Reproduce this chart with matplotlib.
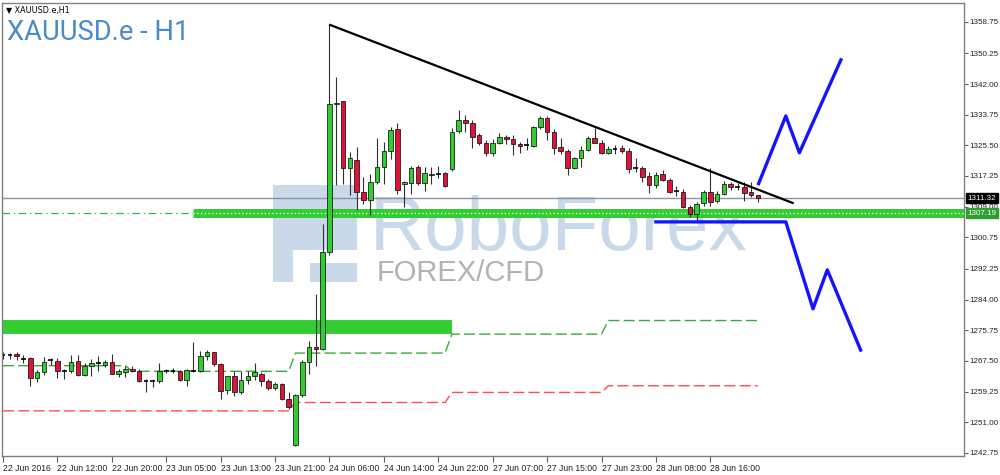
import numpy as np
import matplotlib.pyplot as plt
from matplotlib.patches import Rectangle

# ------------------ XAUUSD.e H1 candles ------------------

opens = [1268.9, 1269.0, 1269.3, 1268.1, 1268.3, 1262.9, 1264.4, 1267.5, 1267.4, 1264.7,
         1264.9, 1267.4, 1263.8, 1266.2, 1266.9, 1266.5, 1267.3, 1264.0, 1264.4, 1265.4,
         1264.9, 1262.2, 1262.2, 1262.2, 1264.9, 1264.9, 1264.9, 1262.4, 1264.9, 1264.9,
         1268.9, 1269.8, 1266.7, 1259.7, 1263.3, 1259.0, 1262.4, 1263.5, 1264.1, 1262.2,
         1260.2, 1261.3, 1257.3, 1244.8, 1258.3, 1267.1, 1271.2, 1270.7, 1296.8, 1336.5,
         1337.3, 1319.5, 1321.5, 1313.0, 1310.7, 1315.7, 1319.7, 1324.0, 1329.8, 1315.0,
         1315.4, 1319.7, 1315.4, 1317.6, 1317.9, 1318.1, 1319.0, 1329.4, 1332.3, 1331.6,
         1328.3, 1326.2, 1323.5, 1326.2, 1327.8, 1327.1, 1325.8, 1325.6, 1325.3, 1330.3,
         1332.8, 1329.2, 1325.1, 1324.0, 1319.3, 1322.0, 1324.2, 1327.4, 1326.2, 1323.5,
         1324.5, 1324.7, 1324.0, 1319.3, 1319.5, 1317.2, 1314.8, 1317.7, 1316.3, 1313.3,
         1313.0, 1308.9, 1307.0, 1310.0, 1313.0, 1310.5, 1312.5, 1315.0, 1314.3, 1314.3,
         1313.0, 1312.1]
highs = [1269.8, 1269.6, 1269.8, 1269.0, 1268.6, 1265.0, 1268.5, 1268.2, 1268.3, 1265.2,
         1269.0, 1269.0, 1266.9, 1268.1, 1268.9, 1267.8, 1269.3, 1265.3, 1266.0, 1266.0,
         1265.3, 1262.6, 1262.6, 1266.9, 1265.3, 1265.5, 1265.0, 1265.3, 1272.5, 1270.2,
         1270.5, 1270.0, 1266.8, 1263.5, 1264.9, 1264.9, 1264.9, 1266.9, 1264.4, 1262.7,
         1261.7, 1261.6, 1259.0, 1258.7, 1267.6, 1272.9, 1285.5, 1304.3, 1357.9, 1344.0,
         1337.5, 1323.8, 1325.1, 1317.0, 1317.7, 1327.6, 1326.5, 1330.5, 1331.4, 1316.0,
         1320.0, 1320.3, 1319.7, 1319.7, 1320.0, 1318.4, 1330.1, 1335.0, 1333.7, 1332.3,
         1328.8, 1327.0, 1327.3, 1328.7, 1328.2, 1328.2, 1326.5, 1327.4, 1330.8, 1333.3,
         1333.3, 1329.9, 1327.4, 1324.6, 1322.4, 1325.3, 1328.0, 1330.1, 1326.8, 1325.2,
         1325.6, 1325.6, 1324.9, 1322.0, 1320.0, 1318.3, 1318.3, 1318.8, 1316.8, 1314.6,
         1313.8, 1309.4, 1310.3, 1313.5, 1319.3, 1313.2, 1315.8, 1315.7, 1315.3, 1315.5,
         1315.5, 1312.1]
lows = [1268.0, 1268.0, 1267.8, 1266.8, 1260.8, 1261.8, 1263.7, 1266.4, 1262.9, 1262.7,
        1264.3, 1263.5, 1263.5, 1263.5, 1264.9, 1265.8, 1264.0, 1263.2, 1263.2, 1264.4,
        1261.7, 1259.0, 1260.4, 1261.5, 1264.3, 1264.3, 1262.1, 1260.8, 1264.4, 1264.4,
        1267.6, 1266.2, 1257.3, 1258.7, 1258.1, 1258.5, 1261.4, 1262.4, 1260.8, 1259.7,
        1259.7, 1257.0, 1254.5, 1244.6, 1257.7, 1264.1, 1266.0, 1270.5, 1295.9, 1314.8,
        1315.2, 1312.1, 1308.0, 1309.8, 1306.7, 1315.0, 1315.2, 1321.8, 1312.3, 1308.8,
        1312.4, 1314.7, 1313.2, 1315.0, 1316.7, 1314.2, 1318.6, 1328.8, 1329.2, 1324.7,
        1325.6, 1322.6, 1322.6, 1325.8, 1325.8, 1322.9, 1323.4, 1324.2, 1325.1, 1329.9,
        1326.8, 1323.3, 1323.3, 1317.5, 1319.2, 1319.8, 1324.0, 1326.0, 1323.1, 1323.1,
        1323.3, 1323.5, 1318.1, 1318.4, 1315.6, 1312.7, 1313.9, 1316.0, 1312.6, 1311.8,
        1308.6, 1306.2, 1305.3, 1309.3, 1309.3, 1310.0, 1312.0, 1313.4, 1313.6, 1310.6,
        1311.6, 1310.3]
closes = [1269.0, 1269.0, 1268.7, 1268.0, 1262.9, 1264.4, 1267.1, 1267.6, 1264.7, 1264.8,
          1267.1, 1263.8, 1266.2, 1266.8, 1266.9, 1267.3, 1264.1, 1264.9, 1265.3, 1264.9,
          1262.2, 1262.2, 1262.2, 1264.9, 1264.9, 1264.9, 1262.4, 1265.0, 1264.9, 1268.9,
          1269.8, 1266.7, 1259.5, 1263.3, 1259.0, 1262.4, 1263.3, 1264.4, 1262.2, 1260.2,
          1261.3, 1257.3, 1255.0, 1258.3, 1267.1, 1271.3, 1270.7, 1296.8, 1336.6, 1337.0,
          1319.5, 1322.2, 1313.0, 1310.7, 1315.7, 1319.7, 1324.0, 1329.6, 1313.6, 1315.5,
          1319.5, 1315.4, 1318.1, 1317.9, 1317.9, 1314.5, 1329.2, 1332.3, 1331.4, 1327.8,
          1326.2, 1323.5, 1326.2, 1327.8, 1327.1, 1325.8, 1325.3, 1325.5, 1330.3, 1332.8,
          1329.2, 1324.7, 1324.0, 1319.3, 1322.0, 1324.2, 1327.6, 1326.2, 1323.5, 1324.4,
          1324.5, 1324.0, 1319.0, 1319.3, 1317.0, 1314.8, 1317.5, 1316.3, 1313.0, 1313.3,
          1308.8, 1307.0, 1309.7, 1313.0, 1310.3, 1312.5, 1315.0, 1314.3, 1314.3, 1312.7,
          1312.1, 1311.3]

time_labels = ["22 Jun 2016", "22 Jun 12:00", "22 Jun 20:00", "23 Jun 05:00", "23 Jun 13:00",
               "23 Jun 21:00", "24 Jun 06:00", "24 Jun 14:00", "24 Jun 22:00", "27 Jun 07:00",
               "27 Jun 15:00", "27 Jun 23:00", "28 Jun 08:00", "28 Jun 16:00"]
label_step = 8

# price scale as the terminal prints it (not evenly rounded)
price_ticks = [1242.75, 1251.00, 1259.25, 1267.50, 1275.75, 1284.00, 1292.25, 1300.75,
               1309.00, 1317.25, 1325.50, 1333.75, 1342.00, 1350.25, 1358.75]

# levels drawn on the chart
bid_price = 1311.32
support_price = 1307.19
support_start = 28
old_zone_price = 1276.6
old_zone_end = 66

# daily step indicator (green above, red below)
step_starts = [0, 19, 43, 66, 89]
green_levels = [1266.2, 1264.7, 1269.6, 1274.7, 1278.35]
red_levels = [1254.05, 1254.05, 1256.3, 1259.0, 1260.8]

# resistance trend line and the two forecast paths
trend_x = [48.1, 116.1]
trend_y = [1357.9, 1310.0]
up_x = [111.1, 115.1, 117.1, 123.2]
up_y = [1315.2, 1333.4, 1323.5, 1348.5]
down_x = [96.0, 115.1, 119.1, 121.2, 126.1]
down_y = [1304.9, 1304.9, 1281.5, 1292.0, 1270.4]

# ------------------ figure ------------------

fig = plt.figure(figsize=(10, 4.75), dpi=100)
ax = fig.add_axes([0.002, 19 / 475, 0.962, 453 / 475])
ax.set_xlim(-0.15, 141.3)
ax.set_ylim(1241.9, 1363.8)

# watermark (axes fraction)
wm = '#c9d9ea'
def px(x, y):
    return (x - 2) / 962, (456 - y) / 453

for (x0, y0, x1, y1) in [(273, 185, 293, 282), (293, 185, 357, 250), (310, 263, 357, 282)]:
    a, b = px(x0, y1)
    c, d = px(x1, y0)
    ax.add_patch(Rectangle((a, b), c - a, d - b, transform=ax.transAxes,
                           color=wm, zorder=0.5, lw=0))
ax.text(*px(370, 250), "RoboForex", transform=ax.transAxes, fontsize=55,
        family='Liberation Sans', color=wm, zorder=0.6, va='baseline')
ax.text(*px(377, 281), "FOREX/CFD", transform=ax.transAxes, fontsize=21,
        family='Liberation Sans', color='#b2b2b2', zorder=0.6, va='baseline')

xs = np.arange(len(opens))
o = np.array(opens)
h = np.array(highs)
l = np.array(lows)
c = np.array(closes)

# old demand zone and support band
ax.plot([ax.get_xlim()[0], old_zone_end], [old_zone_price] * 2, color='#33cc33',
        lw=10, solid_capstyle='butt', zorder=1)
ax.plot([support_start, 200], [support_price] * 2, color='#33cc33', lw=6.5,
        solid_capstyle='butt', zorder=1)
ax.plot([support_start, 200], [support_price] * 2, color='white', lw=0.9,
        ls=(0, (1, 2)), zorder=1.1)
ax.plot([ax.get_xlim()[0], support_start], [support_price] * 2, color='#33bb33', lw=0.9,
        ls=(0, (6, 3, 1, 3)), zorder=1)
ax.axhline(bid_price, color='#8795a8', lw=1, zorder=1.2)

# step lines
def step_path(starts, levels, last):
    px_, py_ = [], []
    ends = [s - 1 for s in starts[1:]] + [last]
    for k, (s, e) in enumerate(zip(starts, ends)):
        px_ += [max(s, -0.15), e]
        py_ += [levels[k], levels[k]]
    return px_, py_

gx, gy = step_path(step_starts, green_levels, len(opens) - 1)
rx, ry = step_path(step_starts, red_levels, len(opens) - 1)
ax.plot(gx, gy, color='#3aaa3a', lw=1, ls=(0, (8, 3)), zorder=1.3)
ax.plot(rx, ry, color='#ff4d4d', lw=1, ls=(0, (8, 3)), zorder=1.3)

# candles
ax.vlines(xs, l, h, color='#303030', lw=0.8, zorder=2)
body = np.abs(c - o)
doji = body < 0.2
bull = (c > o) & ~doji
bear = (c < o) & ~doji
ax.bar(xs[bull], (c - o)[bull], bottom=o[bull], width=0.68, color='#33cc33',
       edgecolor='black', lw=0.5, zorder=2.1)
ax.bar(xs[bear], (c - o)[bear], bottom=o[bear], width=0.68, color='#dc143c',
       edgecolor='black', lw=0.5, zorder=2.1)
ax.hlines(c[doji], xs[doji] - 0.34, xs[doji] + 0.34, color='black', lw=1.2, zorder=2.1)

# trend line and scenarios
ax.plot(trend_x, trend_y, color='black', lw=1.6, zorder=3)
ax.plot(up_x, up_y, color='#1414ff', lw=2.4, zorder=3)
ax.plot(down_x, down_y, color='#1414ff', lw=2.4, zorder=3)

# axes styling
for s in ax.spines.values():
    s.set_color('#808080')
    s.set_linewidth(1)
ax.yaxis.tick_right()
ax.set_yticks(price_ticks)
ax.set_yticklabels([f"{v:.2f}" for v in price_ticks])
ax.tick_params(axis='y', length=3, width=0.8, color='#606060', pad=1,
               labelsize=5.8, labelcolor='#202020')
ax.set_xticks(np.arange(len(time_labels)) * label_step)
ax.set_xticklabels(time_labels, ha='left')
ax.tick_params(axis='x', length=4, width=0.8, color='#606060', pad=2,
               labelsize=6.2, labelcolor='#202020')
for t in ax.get_xticklabels() + ax.get_yticklabels():
    t.set_family('Liberation Sans')

# price markers on the scale
ax.text(1.004, bid_price, f"{bid_price:.2f}", transform=ax.get_yaxis_transform(),
        fontsize=5.8, family='Liberation Sans', color='white', va='center', ha='left',
        bbox=dict(boxstyle='square,pad=0.2', fc='black', ec='black'), clip_on=False, zorder=5)
ax.text(1.004, support_price, f"{support_price:.2f}", transform=ax.get_yaxis_transform(),
        fontsize=5.8, family='Liberation Sans', color='white', va='center', ha='left',
        bbox=dict(boxstyle='square,pad=0.2', fc='#2e9e2e', ec='#2e9e2e'), clip_on=False, zorder=5)

# titles
ax.text(*px(6, 13), "\u25bc XAUUSD.e,H1", transform=ax.transAxes, fontsize=5.8,
        family='DejaVu Sans', color='black', va='baseline')
ax.text(*px(7, 39.5), "XAUUSD.e - H1", transform=ax.transAxes, fontsize=19.7,
        family='Roboto', color='#4a8bc9', va='baseline')

fig.savefig("out.png", dpi=100)
